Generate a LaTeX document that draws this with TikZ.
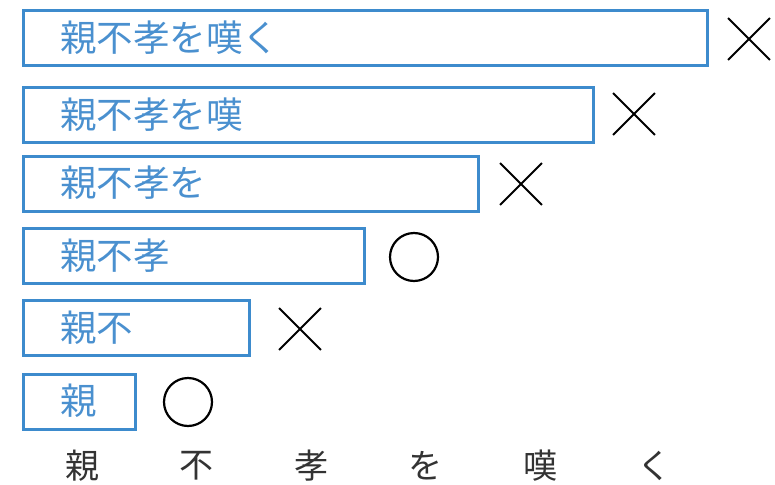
\documentclass[tikz,border=0pt]{standalone}
\usepackage{fontspec}
\newfontfamily\jp{Noto Sans CJK JP}
\usetikzlibrary{shapes.misc}
\definecolor{boxblue}{HTML}{3D8BCD}
\definecolor{txtblue}{HTML}{4A90CF}
\definecolor{txtgray}{HTML}{333333}
\begin{document}
\begin{tikzpicture}[x=1pt,y=-1pt,
  box/.style={draw=boxblue, line width=3pt, rectangle, inner sep=0pt, outer sep=0pt, minimum height=55pt, anchor=west},
  lbl/.style={text=txtblue, inner sep=0pt, anchor=west, font=\jp\fontsize{36.5}{42}\selectfont},
  ng/.style={draw=black, line width=1.8pt, cross out, minimum size=40pt, inner sep=0pt},
  ok/.style={draw=black, line width=2.2pt, circle, minimum size=48pt, inner sep=0pt},
  bottom/.style={text=txtgray, inner sep=0pt, font=\jp\fontsize{34}{40}\selectfont}]
\useasboundingbox (0,0) rectangle (775,484);
% boxes
\node[box, minimum width=684pt] (b1) at (23.5,38.5) {};
\node[box, minimum width=570pt] (b2) at (23.5,115) {};
\node[box, minimum width=455pt] (b3) at (23.5,183.5) {};
\node[box, minimum width=341pt] (b4) at (23.5,256) {};
\node[box, minimum width=226pt] (b5) at (23.5,328) {};
\node[box, minimum width=112pt] (b6) at (23.5,401.5) {};
% labels
\node[lbl] (t1) at (60,38) {親不孝を嘆く};
\node[lbl] (t2) at (60,114.5) {親不孝を嘆};
\node[lbl] (t3) at (60,183) {親不孝を};
\node[lbl] (t4) at (60,255.5) {親不孝};
\node[lbl] (t5) at (60,327.5) {親不};
\node[lbl] (t6) at (60,401) {親};
% marks
\node[ng] (m1) at (749,39) {};
\node[ng] (m2) at (634,114) {};
\node[ng] (m3) at (521,184) {};
\node[ok] (m4) at (414,257) {};
\node[ng] (m5) at (300,329) {};
\node[ok] (m6) at (188,402) {};
% bottom characters
\node[bottom] (c1) at (82,466) {親};
\node[bottom] (c2) at (196.5,466) {不};
\node[bottom] (c3) at (311,466) {孝};
\node[bottom] (c4) at (425.5,466) {を};
\node[bottom] (c5) at (540,466) {嘆};
\node[bottom] (c6) at (654.5,466) {く};
\end{tikzpicture}
\end{document}
